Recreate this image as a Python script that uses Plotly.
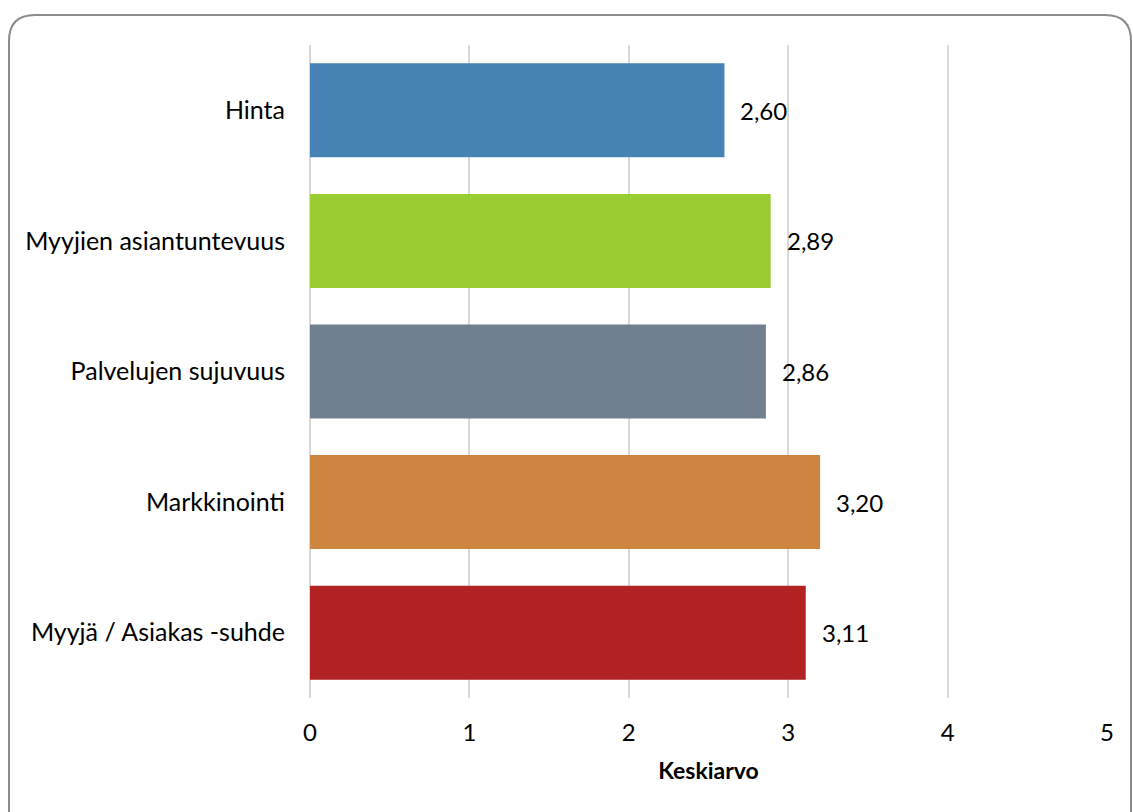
import plotly.graph_objects as go

categories = ["Hinta", "Myyjien asiantuntevuus", "Palvelujen sujuvuus", "Markkinointi", "Myyjä / Asiakas -suhde"]
values = [2.60, 2.89, 2.86, 3.20, 3.11]
colors = ["#4682B4", "#9ACD32", "#708090", "#CD853F", "#B22222"]
x_ticks = [0, 1, 2, 3, 4, 5]
x_title = "Keskiarvo"

W, H = 1133, 812
L, R, T, B = 310, 26, 45, 114
pw, ph = W - L - R, H - T - B

FONT = "Lato"
FS = 24

fig = go.Figure()
fig.add_trace(go.Bar(
    y=categories, x=values, orientation="h",
    marker=dict(color=colors, line=dict(width=0)),
    width=0.72, showlegend=False, hoverinfo="skip",
))

for c, v in zip(categories, values):
    fig.add_annotation(x=v, y=c, xref="x", yref="y", text=f"{v:.2f}".replace(".", ","),
                       showarrow=False, xanchor="left", xshift=14,
                       font=dict(family=FONT, size=FS, color="#000000"))

def px(x):
    return (x - L) / pw

def py(y):
    return (H - B - y) / ph

# rounded border
x0, y0, x1, y1, r = 9, 15, 1131, 830, 26
path = (f"M {px(x0+r)},{py(y0)} L {px(x1-r)},{py(y0)} Q {px(x1)},{py(y0)} {px(x1)},{py(y0+r)} "
        f"L {px(x1)},{py(y1)} M {px(x0)},{py(y1)} L {px(x0)},{py(y0+r)} Q {px(x0)},{py(y0)} {px(x0+r)},{py(y0)}")
fig.add_shape(type="path", path=path, xref="paper", yref="paper",
              line=dict(color="#8C8C8C", width=2), layer="below")

fig.update_layout(
    width=W, height=H,
    margin=dict(l=L, r=R, t=T, b=B, pad=0),
    paper_bgcolor="white", plot_bgcolor="white",
    separators=", ",
    font=dict(family=FONT, size=FS, color="#000000"),
    bargap=0.28,
)
fig.update_xaxes(range=[0, 5], tickvals=x_ticks, ticktext=[str(t) for t in x_ticks],
                 showgrid=True, gridcolor="#D9D9D9", gridwidth=2,
                 zeroline=True, zerolinecolor="#D9D9D9", zerolinewidth=2,
                 showline=False, ticks="", ticklabelstandoff=18,
                 title=dict(text=f"<b>{x_title}</b>", font=dict(family=FONT, size=23), standoff=17),
                 fixedrange=True)
fig.update_yaxes(categoryorder="array", categoryarray=categories[::-1],
                 showgrid=False, zeroline=False, showline=False, ticks="",
                 tickfont=dict(family=FONT, size=25),
                 ticklabelstandoff=24, fixedrange=True)

fig.write_html("out.html", config={"displayModeBar": False})
